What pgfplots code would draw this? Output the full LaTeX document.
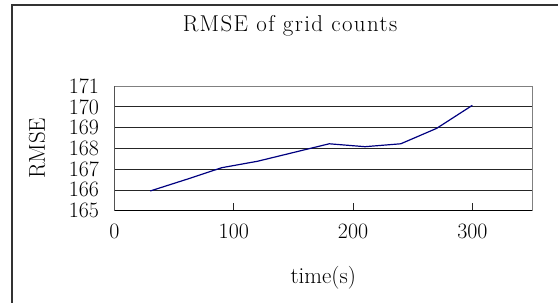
\documentclass[border=0pt]{standalone}
\usepackage{fontspec}
\setmainfont{Latin Modern Roman}
\newfontfamily\titlefont[LetterSpace=6]{Latin Modern Roman}
\usepackage{pgfplots}
\pgfplotsset{compat=1.18}
\begin{document}
\begin{tikzpicture}
\useasboundingbox (0,0) rectangle (558bp,303bp);
\draw[line width=1.6bp, black!80] (11.7bp,-2bp) -- (11.7bp,298bp) -- (560bp,298bp);
\begin{axis}[
  at={(114.5bp,92.3bp)}, anchor=south west,
  scale only axis, width=417.5bp, height=124.7bp,
  xmin=0, xmax=350, ymin=165, ymax=171,
  xtick={0,100,200,300}, ytick={165,166,167,168,169,170,171},
  xtick pos=bottom, ytick pos=left,
  tick align=inside, major tick length=8bp,
  tick style={black!85, line width=0.8bp},
  ymajorgrids, grid style={black!85, line width=0.8bp},
  axis line style={draw=gray, line width=0.9bp},
  /pgf/number format/assume math mode=true,
  tick label style={font=\fontsize{22}{24}\selectfont},
  yticklabel style={xshift=-12bp},
  xticklabel style={yshift=-9.5bp},
  label style={font=\fontsize{23}{25}\selectfont},
  xlabel={time(s)},
  xlabel style={at={(axis description cs:0.5,0)}, anchor=center, yshift=-67.3bp},
  ylabel={RMSE},
  ylabel style={at={(axis description cs:-0.1856,0.5)}, anchor=center},
  title={RMSE of grid counts},
  title style={font=\titlefont\fontsize{23}{25}\selectfont, at={(axis description cs:0.4204,1.3905)}, anchor=base},
]
\addplot[color={rgb,255:red,0;green,0;blue,128}, line width=1.2bp, mark=none] coordinates {
(30,165.95) (60,166.5) (90,167.07) (120,167.38) (150,167.8) (180,168.22) (210,168.08) (240,168.22) (270,168.96) (300,170.07)
};
\draw[black, line width=1.2bp] (rel axis cs:0,1) -- (rel axis cs:0,0) -- (rel axis cs:1,0);
\end{axis}
\end{tikzpicture}
\end{document}
